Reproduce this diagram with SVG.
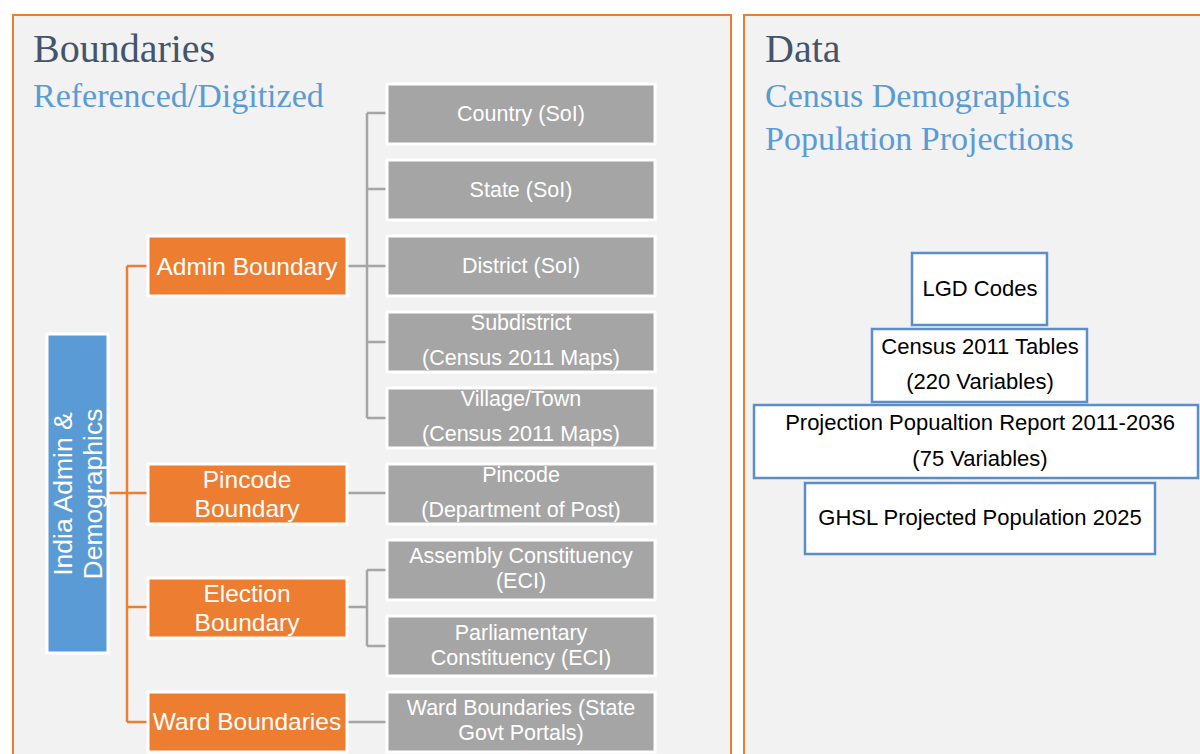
<svg xmlns="http://www.w3.org/2000/svg" width="1200" height="754" viewBox="0 0 1200 754">
<style>
.panel{fill:#f2f2f2;stroke:#ed7d31;stroke-width:2}
.title{font-family:"Liberation Serif",serif;font-size:40px;fill:#44546a}
.sub{font-family:"Liberation Serif",serif;font-size:34px;fill:#5b9bd5}
.gray rect{fill:#a5a5a5;stroke:#ffffff;stroke-width:3}
.orange rect{fill:#ed7d31;stroke:#ffffff;stroke-width:3}
.blue rect{fill:#5b9bd5;stroke:#ffffff;stroke-width:3}
.data rect{fill:#ffffff;stroke:#5b8ec8;stroke-width:2.5}
.wt{font-family:"Liberation Sans",Arial,sans-serif;font-size:21.5px;fill:#ffffff;text-anchor:middle}
.ot{font-family:"Liberation Sans",Arial,sans-serif;font-size:24.5px;fill:#ffffff;text-anchor:middle}
.bt{font-family:"Liberation Sans",Arial,sans-serif;font-size:22px;fill:#000000;text-anchor:middle}
.vt{font-family:"Liberation Sans",Arial,sans-serif;font-size:26.5px;fill:#ffffff;text-anchor:middle}
.gl{stroke:#a5a5a5;stroke-width:2.5;fill:none}
.ol{stroke:#ed7d31;stroke-width:2.5;fill:none}
</style>
<rect x="0" y="0" width="1200" height="754" fill="#ffffff"/>
<rect class="panel" x="13" y="15" width="718" height="760"/>
<rect class="panel" x="744" y="15" width="470" height="760"/>
<text class="title" x="33" y="62">Boundaries</text>
<text class="sub" x="33" y="107">Referenced/Digitized</text>
<text class="title" x="765" y="62">Data</text>
<text class="sub" x="765" y="107">Census Demographics</text>
<text class="sub" x="765" y="150">Population Projections</text>

<g id="connectors">
<path class="ol" d="M108 493H127M127 266V722M127 266H148M127 493H148M127 607H148M127 722H148"/>
<path class="gl" d="M347 266H367M367 113V418M367 113H387M367 189H387M367 266H387M367 342H387M367 418H387"/>
<path class="gl" d="M347 493H387"/>
<path class="gl" d="M347 607H367M367 570V646M367 570H387M367 646H387"/>
<path class="gl" d="M347 722H387"/>
</g>

<g id="root" class="blue"><rect x="47" y="334" width="61" height="319"/>
<text class="vt" transform="translate(72,494) rotate(-90)">India Admin &amp;</text>
<text class="vt" transform="translate(102,494) rotate(-90)">Demographics</text></g>

<g id="admin" class="orange"><rect x="148" y="236" width="199" height="60"/><text class="ot" x="247" y="275">Admin Boundary</text></g>
<g id="pincode" class="orange"><rect x="148" y="464" width="199" height="60"/><text class="ot" x="247" y="488">Pincode</text><text class="ot" x="247" y="517">Boundary</text></g>
<g id="election" class="orange"><rect x="148" y="578" width="199" height="60"/><text class="ot" x="247" y="602">Election</text><text class="ot" x="247" y="631">Boundary</text></g>
<g id="ward" class="orange"><rect x="148" y="692" width="199" height="60"/><text class="ot" x="247" y="730">Ward Boundaries</text></g>

<g id="country" class="gray"><rect x="387" y="84" width="268" height="60"/><text class="wt" x="521" y="121">Country (SoI)</text></g>
<g id="state" class="gray"><rect x="387" y="160" width="268" height="60"/><text class="wt" x="521" y="197">State (SoI)</text></g>
<g id="district" class="gray"><rect x="387" y="236" width="268" height="60"/><text class="wt" x="521" y="273">District (SoI)</text></g>
<g id="subdistrict" class="gray"><rect x="387" y="312" width="268" height="60"/><text class="wt" x="521" y="330">Subdistrict</text><text class="wt" x="521" y="365">(Census 2011 Maps)</text></g>
<g id="village" class="gray"><rect x="387" y="388" width="268" height="60"/><text class="wt" x="521" y="406">Village/Town</text><text class="wt" x="521" y="441">(Census 2011 Maps)</text></g>
<g id="pincode-src" class="gray"><rect x="387" y="464" width="268" height="60"/><text class="wt" x="521" y="482">Pincode</text><text class="wt" x="521" y="517">(Department of Post)</text></g>
<g id="assembly" class="gray"><rect x="387" y="540" width="268" height="60"/><text class="wt" x="521" y="563">Assembly Constituency</text><text class="wt" x="521" y="588">(ECI)</text></g>
<g id="parliament" class="gray"><rect x="387" y="616" width="268" height="60"/><text class="wt" x="521" y="640">Parliamentary</text><text class="wt" x="521" y="665">Constituency (ECI)</text></g>
<g id="ward-src" class="gray"><rect x="387" y="692" width="268" height="60"/><text class="wt" x="521" y="715">Ward Boundaries (State</text><text class="wt" x="521" y="740">Govt Portals)</text></g>

<g id="lgd" class="data"><rect x="912" y="253" width="135" height="72"/><text class="bt" x="980" y="296">LGD Codes</text></g>
<g id="census" class="data"><rect x="872" y="329" width="215" height="73"/><text class="bt" x="980" y="354">Census 2011 Tables</text><text class="bt" x="980" y="389">(220 Variables)</text></g>
<g id="projection" class="data"><rect x="754" y="405" width="444" height="73"/><text class="bt" x="980" y="430">Projection Popualtion Report 2011-2036</text><text class="bt" x="980" y="466">(75 Variables)</text></g>
<g id="ghsl" class="data"><rect x="805" y="483" width="350" height="71"/><text class="bt" x="980" y="525">GHSL Projected Population 2025</text></g>
</svg>
